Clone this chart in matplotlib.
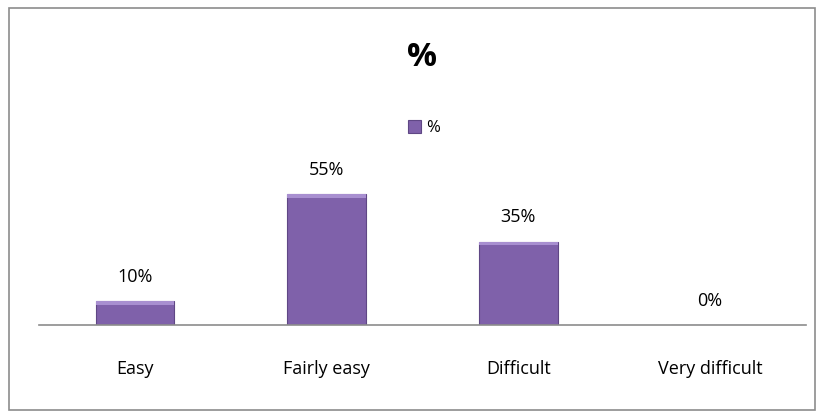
import matplotlib.pyplot as plt
import numpy as np
from matplotlib.patches import Rectangle

categories = ['Easy', 'Fairly easy', 'Difficult', 'Very difficult']
values = [10, 55, 35, 0]
labels = ['10%', '55%', '35%', '0%']

plt.rcParams['font.family'] = ['Open Sans', 'DejaVu Sans']

fig = plt.figure(figsize=(8.25, 4.12), dpi=100)
# outer border
fig.patches.append(Rectangle((9 / 825, 1 - 410 / 412), 806 / 825, 402 / 412,
                             transform=fig.transFigure, fill=False,
                             edgecolor='#8c8c8c', linewidth=1.2))

ax = fig.add_axes([39 / 825, 1 - 325 / 412, 767 / 825, 165 / 412])
x = np.arange(len(categories))
bars = ax.bar(x, values, width=0.41, color='#7f61aa', edgecolor='#5f4785',
              linewidth=0.8, label='%')

# light bevel on top of bars
for b in bars:
    h = b.get_height()
    if h > 0:
        ax.bar(b.get_x() + b.get_width() / 2, min(1.5, h), bottom=h - min(1.5, h),
               width=b.get_width(), color='#a88fd0', linewidth=0)

for xi, v, t in zip(x, values, labels):
    ax.annotate(t, (xi, v), xytext=(0, 11), textcoords='offset points',
                ha='center', va='bottom', fontsize=13)

ax.set_xlim(-0.5, len(categories) - 0.5)
ax.set_ylim(0, 55 * 165 / 131)
ax.set_xticks(x)
ax.set_xticklabels(categories, fontsize=13)
ax.tick_params(axis='x', length=0, pad=25)
ax.set_yticks([])
for s in ['top', 'right', 'left']:
    ax.spines[s].set_visible(False)
ax.spines['bottom'].set_color('#8c8c8c')
ax.spines['bottom'].set_linewidth(1.2)

fig.text(422 / 825, 1 - 57 / 412, '%', ha='center', va='center',
         fontsize=24, fontweight='bold')
fig.legend(handles=[bars], labels=['%'], loc='center',
           bbox_to_anchor=(424 / 825, 1 - 128 / 412), frameon=False,
           fontsize=12, handlelength=0.8, handleheight=0.8, handletextpad=0.3)

fig.savefig('out.png', dpi=100)
